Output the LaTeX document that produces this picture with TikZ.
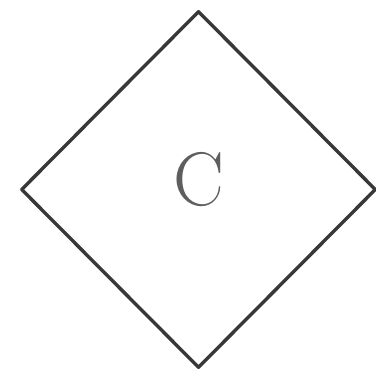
\documentclass[tikz,border=0pt]{standalone}
\usepackage{xcolor}
\definecolor{dmdline}{HTML}{383838}
\definecolor{dmdtext}{HTML}{5E5E5E}
\usepackage{tikz}
\usetikzlibrary{shapes.geometric}
\tikzset{
  dmdbox/.style={diamond,draw=dmdline,line width=3.4pt,line join=round,inner sep=0pt,minimum width=355pt,minimum height=357pt},
  dmdlabel/.style={text=dmdtext,inner sep=0pt,font=\fontsize{76}{80}\selectfont},
}
\begin{document}
\begin{tikzpicture}[x=1pt,y=1pt]
 % single decision diamond
\useasboundingbox (0,0) rectangle (376,376);
\node[dmdbox] (c) at (198.5,186.5){};
\node[dmdlabel] (clabel) at ([yshift=10pt]c.center){C};
\end{tikzpicture}
\end{document}
